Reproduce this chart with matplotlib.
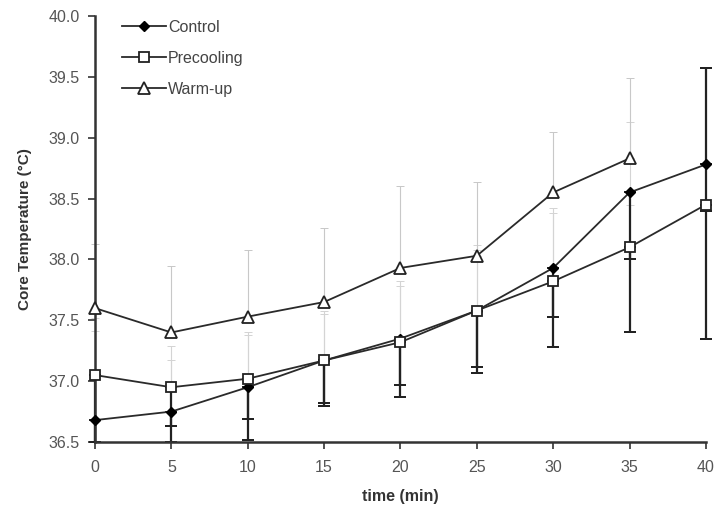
import numpy as np
import matplotlib
matplotlib.use("Agg")
import matplotlib.pyplot as plt

plt.rcParams['font.family'] = ['Liberation Sans', 'DejaVu Sans']

# data
time = [0, 5, 10, 15, 20, 25, 30, 35, 40]

control = [36.68, 36.75, 36.95, 37.17, 37.35, 37.58, 37.93, 38.55, 38.78]
control_low = [36.50, 36.63, 36.69, 36.82, 36.97, 37.12, 37.53, 38.00, 38.40]
control_high = [37.52, 37.29, 37.40, 37.58, 37.82, 38.12, 38.42, 39.13, 39.57]

precool = [37.05, 36.95, 37.02, 37.17, 37.32, 37.58, 37.82, 38.10, 38.45]
precool_low = [36.50, 36.50, 36.52, 36.80, 36.87, 37.07, 37.28, 37.40, 37.35]
precool_high = [37.41, 37.17, 37.38, 37.55, 37.78, 38.08, 38.38, 38.45, 38.45]

warm_time = [0, 5, 10, 15, 20, 25, 30, 35]
warm = [37.60, 37.40, 37.53, 37.65, 37.93, 38.03, 38.55, 38.83]
warm_high = [38.13, 37.95, 38.08, 38.26, 38.60, 38.64, 39.05, 39.49]

t = np.array(time)
c = np.array(control)
p = np.array(precool)
w = np.array(warm)

fig = plt.figure(figsize=(7.17, 5.15), dpi=100)
ax = fig.add_axes([0.1325, 0.1417, 0.852, 0.8273])


def bars(x, y, lo, hi, color, lw, cap):
    eb = ax.errorbar(x, y, yerr=[lo, hi], fmt='none', ecolor=color,
                     elinewidth=lw, capsize=cap, capthick=lw * 0.9)
    for art in eb.lines[1] + eb.lines[2]:
        art.set_clip_on(False)


faint = '#d4d4d4'
# faint upward bars (control / precooling)
bars(t, c, np.zeros(len(t)), np.array(control_high) - c, faint, 0.8, 3)
bars(t[:-1], p[:-1], np.zeros(len(t) - 1), np.array(precool_high[:-1]) - p[:-1], faint, 0.8, 3)
# last control bar is black all the way up
bars(t[-1:], c[-1:], [0], [control_high[-1] - control[-1]], '#222222', 1.6, 4)
# warm-up upward bars
bars(warm_time, w, np.zeros(len(w)), np.array(warm_high) - w, '#c8c8c8', 0.8, 3)
# black downward bars
bars(t, c, c - np.array(control_low), np.zeros(len(t)), '#222222', 1.6, 4)
bars(t, p, p - np.array(precool_low), np.zeros(len(t)), '#222222', 1.6, 4)

ax.plot(t, c, color='#2a2a2a', lw=1.3, marker='D', ms=5.5, mfc='black',
        mec='black', label='Control', zorder=5, clip_on=False)
ax.plot(t, p, color='#2a2a2a', lw=1.3, marker='s', ms=7.5, mfc='white',
        mec='#222222', mew=1.3, label='Precooling', zorder=5, clip_on=False)
ax.plot(warm_time, w, color='#2a2a2a', lw=1.3, marker='^', ms=8, mfc='white',
        mec='#222222', mew=1.3, label='Warm-up', zorder=5, clip_on=False)

ax.set_xlim(0, 40)
ax.set_ylim(36.5, 40.0)
ax.set_xticks(time)
yt = np.arange(36.5, 40.01, 0.5)
ax.set_yticks(yt)
ax.set_yticklabels(['%.1f' % v for v in yt])

for s in ['top', 'right']:
    ax.spines[s].set_visible(False)
for s in ['left', 'bottom']:
    ax.spines[s].set_linewidth(1.8)
    ax.spines[s].set_color('#333333')
ax.tick_params(axis='both', direction='out', length=5, width=1.2,
               colors='#333333', labelcolor='#555555', labelsize=11.5)
ax.tick_params(axis='x', pad=8)
ax.tick_params(axis='y', pad=6)

ax.set_xlabel('time (min)', fontsize=11.5, fontweight='bold', color='#333333', labelpad=10)
ax.set_ylabel('Core Temperature (°C)', fontsize=11, fontweight='bold', color='#333333', labelpad=12)

leg = ax.legend(loc='upper left', bbox_to_anchor=(0.02, 1.025), frameon=False,
                fontsize=11.5, handlelength=2.8, labelspacing=1.0, handletextpad=0.1)
for txt in leg.get_texts():
    txt.set_color('#444444')

fig.savefig('out.png', dpi=100)
